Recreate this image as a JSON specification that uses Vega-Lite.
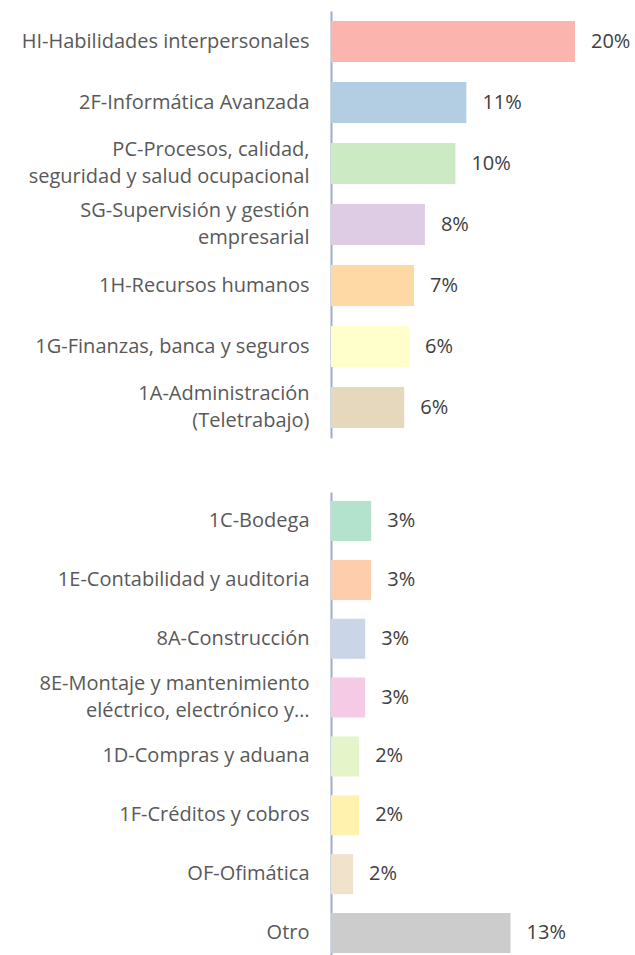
{
  "$schema": "https://vega.github.io/schema/vega-lite/v6.json",
  "background": "white",
  "padding": {"left": 21, "top": 11, "right": 0, "bottom": 0},
  "spacing": 54,
  "config": {
    "view": {"stroke": null},
    "font": "Open Sans",
    "axisY": {
      "title": null,
      "domainColor": "#9eaec8",
      "domainWidth": 2,
      "ticks": false,
      "grid": false,
      "labelFont": "Open Sans",
      "labelFontSize": 20,
      "labelColor": "#595959",
      "labelPadding": 22,
      "labelLimit": 0,
      "labelLineHeight": 27,
      "labelOffset": {"condition": {"test": "indexof(datum.value, '\\n') >= 0", "value": -13.5}, "value": 0},
      "labelExpr": "split(datum.label, '\\n')"
    },
    "text": {"font": "Open Sans", "fontSize": 20, "color": "#404040", "align": "left", "baseline": "middle", "dx": 16}
  },
  "datasets": {
    "top": [
      {"categoria": "HI-Habilidades interpersonales", "valor": 0.200},
      {"categoria": "2F-Informática Avanzada", "valor": 0.111},
      {"categoria": "PC-Procesos, calidad,\nseguridad y salud ocupacional", "valor": 0.102},
      {"categoria": "SG-Supervisión y gestión\nempresarial", "valor": 0.077},
      {"categoria": "1H-Recursos humanos", "valor": 0.068},
      {"categoria": "1G-Finanzas, banca y seguros", "valor": 0.064},
      {"categoria": "1A-Administración\n(Teletrabajo)", "valor": 0.060}
    ],
    "bottom": [
      {"categoria": "1C-Bodega", "valor": 0.030},
      {"categoria": "1E-Contabilidad y auditoria", "valor": 0.030},
      {"categoria": "8A-Construcción", "valor": 0.0255},
      {"categoria": "8E-Montaje y mantenimiento\neléctrico, electrónico y…", "valor": 0.0255},
      {"categoria": "1D-Compras y aduana", "valor": 0.021},
      {"categoria": "1F-Créditos y cobros", "valor": 0.021},
      {"categoria": "OF-Ofimática", "valor": 0.0165},
      {"categoria": "Otro", "valor": 0.134}
    ]
  },
  "vconcat": [
    {
      "data": {"name": "top"},
      "width": 304,
      "height": 427,
      "encoding": {
        "y": {"field": "categoria", "type": "nominal", "sort": null,
              "scale": {"paddingInner": 0.328, "paddingOuter": 0.164}},
        "x": {"field": "valor", "type": "quantitative", "axis": null,
              "scale": {"domain": [0, 0.2492], "nice": false}}
      },
      "layer": [
        {
          "mark": {"type": "bar"},
          "encoding": {
            "color": {"field": "categoria", "type": "nominal", "legend": null, "sort": null,
                      "scale": {"range": ["#FBB4AE", "#B3CDE3", "#CCEBC5", "#DECBE4", "#FED9A6", "#FFFFCC", "#E5D8BD"]}}
          }
        },
        {
          "mark": {"type": "text"},
          "encoding": {"text": {"field": "valor", "type": "quantitative", "format": ".0%"}}
        }
      ]
    },
    {
      "data": {"name": "bottom"},
      "width": 304,
      "height": 463,
      "encoding": {
        "y": {"field": "categoria", "type": "nominal", "sort": null,
              "scale": {"paddingInner": 0.32, "paddingOuter": 0.094, "align": 0.82}},
        "x": {"field": "valor", "type": "quantitative", "axis": null,
              "scale": {"domain": [0, 0.2269], "nice": false}}
      },
      "layer": [
        {
          "mark": {"type": "bar"},
          "encoding": {
            "color": {"field": "categoria", "type": "nominal", "legend": null, "sort": null,
                      "scale": {"range": ["#B3E2CD", "#FDCDAC", "#CBD5E8", "#F4CAE4", "#E6F5C9", "#FFF2AE", "#F1E2CC", "#CCCCCC"]}}
          }
        },
        {
          "mark": {"type": "text"},
          "encoding": {"text": {"field": "valor", "type": "quantitative", "format": ".0%"}}
        }
      ]
    }
  ],
  "resolve": {"scale": {"color": "independent", "x": "independent", "y": "independent"}}
}
